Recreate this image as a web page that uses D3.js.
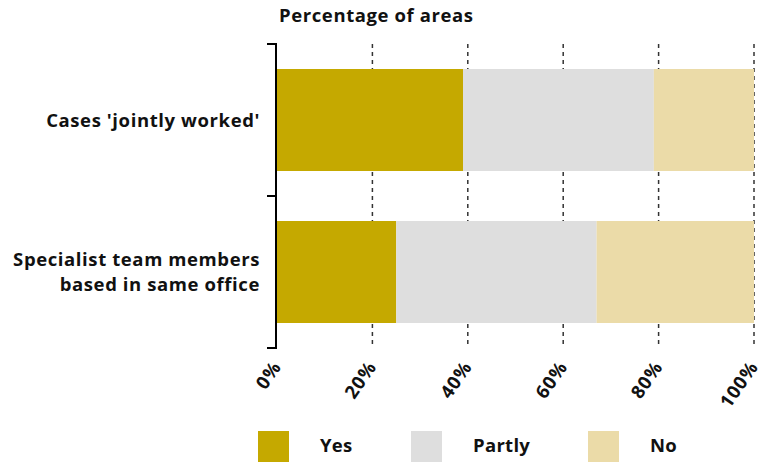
<!DOCTYPE html>
<html>
<head>
<meta charset="utf-8">
<script src="https://cdn.jsdelivr.net/npm/d3@7"></script>
<style>
  body { margin: 0; background: #fff; }
  text { font-family: "Open Sans", "Noto Sans", sans-serif; font-weight: 700; fill: #111; }
</style>
</head>
<body>
<svg id="chart" width="762" height="466"></svg>
<script>
const categories = [["Cases 'jointly worked'"], ["Specialist team members", "based in same office"]];
const categoryKeys = ["jointly", "office"];
const seriesNames = ["Yes", "Partly", "No"];
const yesValues = [39, 25];
const partlyValues = [40, 42];
const noValues = [21, 33];
const xTicks = [0, 20, 40, 60, 80, 100];
const colors = ["#C5A900", "#DEDEDE", "#EBDBA8"];
const title = "Percentage of areas";

(function () {
const svg = d3.select("#chart");
const pLeft = 277, pRight = 754, pTop = 44, pBottom = 348;

const x = d3.scaleLinear().domain([0, 100]).range([pLeft, pRight]);
const y = d3.scaleBand().domain(categoryKeys).range([pTop, pBottom])
  .paddingInner(0.329).paddingOuter(0.1645);

const rows = categoryKeys.map((k, i) => ({ key: k, Yes: yesValues[i], Partly: partlyValues[i], No: noValues[i] }));
const stack = d3.stack().keys(seriesNames)(rows);

// gridlines
svg.append("g").selectAll("line").data(xTicks.filter(d => d > 0)).join("line")
  .attr("x1", d => x(d)).attr("x2", d => x(d))
  .attr("y1", pTop).attr("y2", pBottom)
  .attr("stroke", "#333").attr("stroke-width", 1.5)
  .attr("stroke-dasharray", "4,4");

// bars
svg.append("g").selectAll("g").data(stack).join("g")
  .attr("fill", (d, i) => colors[i])
  .selectAll("rect").data(d => d).join("rect")
  .attr("x", d => x(d[0]))
  .attr("width", d => x(d[1]) - x(d[0]))
  .attr("y", d => y(d.data.key))
  .attr("height", y.bandwidth());

// left axis with ticks at band boundaries
const step = y.step();
const boundaries = [pTop, pTop + step, pTop + 2 * step];
svg.append("line").attr("x1", pLeft - 1).attr("x2", pLeft - 1).attr("y1", pTop - 1).attr("y2", pBottom + 1)
  .attr("stroke", "#000").attr("stroke-width", 2);
svg.append("g").selectAll("line").data(boundaries).join("line")
  .attr("x1", pLeft - 10).attr("x2", pLeft - 1)
  .attr("y1", d => d).attr("y2", d => d)
  .attr("stroke", "#000").attr("stroke-width", 2);

// category labels
categoryKeys.forEach((k, i) => {
  const lines = categories[i];
  const cy = y(k) + y.bandwidth() / 2;
  const lh = 25.5;
  const t = svg.append("text").attr("text-anchor", "end").attr("font-size", 18.5)
    .attr("letter-spacing", 0.6);
  lines.forEach((ln, j) => {
    t.append("tspan").attr("x", 260)
      .attr("y", cy + (j - (lines.length - 1) / 2) * lh + 6.5)
      .text(ln);
  });
});

// x tick labels
svg.append("g").selectAll("text").data(xTicks).join("text")
  .attr("text-anchor", "end")
  .attr("font-size", 18.5)
  .attr("letter-spacing", 0.8)
  .attr("transform", d => `translate(${x(d) + 5},${367}) rotate(-55)`)
  .text(d => d + "%");

// title
svg.append("text").attr("x", 279).attr("y", 22).attr("font-size", 18.5)
  .attr("letter-spacing", 0.6).text(title);

// legend
const legendX = [258, 411, 588];
seriesNames.forEach((s, i) => {
  svg.append("rect").attr("x", legendX[i]).attr("y", 431).attr("width", 31).attr("height", 31).attr("fill", colors[i]);
  svg.append("text").attr("x", legendX[i] + 62).attr("y", 452).attr("font-size", 18.5)
    .attr("letter-spacing", 0.3).text(s);
});
})();
</script>
</body>
</html>
